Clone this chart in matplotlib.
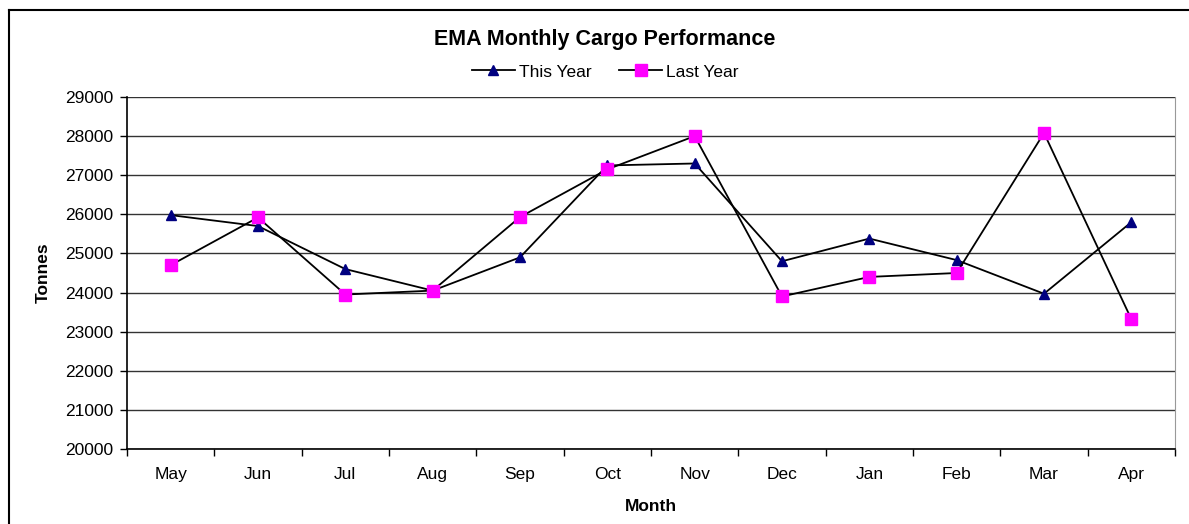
import numpy as np
import matplotlib.pyplot as plt
from matplotlib.lines import Line2D

plt.rcParams['font.family'] = ['Liberation Sans', 'DejaVu Sans']

# data
months = ['May', 'Jun', 'Jul', 'Aug', 'Sep', 'Oct', 'Nov', 'Dec', 'Jan', 'Feb', 'Mar', 'Apr']
this_year = [25980, 25700, 24600, 24050, 24900, 27250, 27300, 24800, 25380, 24830, 23970, 25800]
last_year = [24700, 25920, 23950, 24050, 25930, 27150, 28000, 23900, 24400, 24500, 28080, 23320]
yticks = list(range(20000, 29001, 1000))

fig = plt.figure(figsize=(11.89, 5.24), dpi=100)
ax = fig.add_axes([127/1189, 1 - 449/524, (1175 - 127)/1189, (449 - 97)/524])

x = np.arange(len(months))
ax.plot(x, this_year, color='black', lw=1.3, marker='^', ms=7,
        mfc='#000080', mec='#000080', label='This Year', zorder=3)
ax.plot(x, last_year, color='black', lw=1.3, marker='s', ms=9,
        mfc='#FF00FF', mec='#FF00FF', label='Last Year', zorder=3)

ax.set_xlim(-0.5, len(months) - 0.5)
ax.set_ylim(20000, 29000)
ax.set_yticks(yticks)
ax.tick_params(axis='y', labelsize=12.5, length=5, width=1, direction='out', pad=5)

# category labels centred, tick marks between categories
ax.set_xticks(x)
ax.set_xticklabels(months)
ax.tick_params(axis='x', which='major', length=0, labelsize=12.5, pad=13)
ax.set_xticks(np.arange(-0.5, len(months), 1), minor=True)
ax.tick_params(axis='x', which='minor', length=5, width=1, direction='out')

ax.yaxis.grid(True, color='#333333', lw=1)
ax.set_axisbelow(True)
ax.spines['top'].set_visible(False)
ax.spines['right'].set_color('#999999')
ax.spines['left'].set_linewidth(1.2)
ax.spines['bottom'].set_linewidth(1.2)

ax.set_xlabel('Month', fontsize=12.5, fontweight='bold', labelpad=12)
ax.set_ylabel('Tonnes', fontsize=12.5, fontweight='bold', labelpad=10)

fig.text(605/1189, 1 - 40/524, 'EMA Monthly Cargo Performance', ha='center', va='center',
         fontsize=15.5, fontweight='bold')
fig.legend(loc='center', bbox_to_anchor=(605/1189, 1 - 72/524), ncol=2, frameon=False,
           fontsize=12.5, handlelength=2.5, columnspacing=1.6, handletextpad=0.2)

# outer chart border (top and left edges visible)
fig.add_artist(Line2D([9/1189, 1], [1 - 10/524, 1 - 10/524], color='black', lw=1.5))
fig.add_artist(Line2D([9/1189, 9/1189], [0, 1 - 10/524], color='black', lw=1.5))

fig.savefig('out.png', dpi=100)
